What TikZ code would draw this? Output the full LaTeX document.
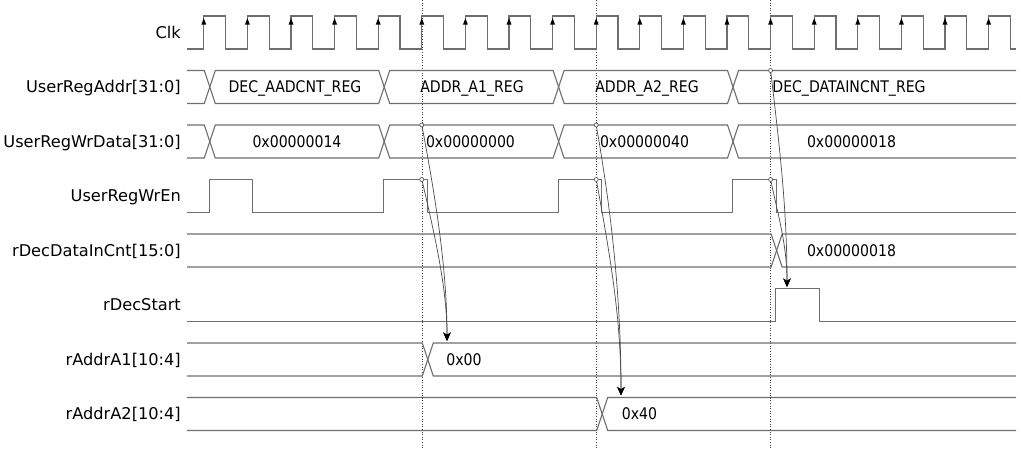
\documentclass[tikz,border=0pt]{standalone}
\usepackage{fontspec}
\newfontfamily\lblfont{DejaVu Sans}
\newfontfamily\valfont{DejaVu Sans}[FakeStretch=0.88]
\usetikzlibrary{arrows.meta}
\definecolor{wavegray}{HTML}{6E6E6E}
\definecolor{arrgray}{HTML}{4A4A4A}
\begin{document}
\begin{tikzpicture}[x=1pt,y=-1pt,
  wave/.style={draw=wavegray,line width=1.1pt,line join=miter},
  guide/.style={draw=black!75,dotted,line width=0.6pt},
  lbl/.style={anchor=east,inner sep=0pt,text height=11.8pt,text depth=0pt,font=\lblfont\fontsize{16.2}{19}\selectfont},
  val/.style={inner sep=0pt,text height=11.6pt,text depth=0pt,font=\valfont\fontsize{16}{19}\selectfont},
  dep/.style={draw=arrgray,line width=0.7pt,-{Stealth[length=8.5pt,width=7.5pt,inset=2.2pt,color=black]}},
  srcdot/.style={draw=arrgray,line width=0.6pt,fill=white},
  clkarrow/.style={fill=black}]
\useasboundingbox (0,0) rectangle (1021,450);

% guide lines
\draw[guide] (421.8,0) -- (421.8,450);
\draw[guide] (596.2,0) -- (596.2,450);
\draw[guide] (770.6,0) -- (770.6,450);

% labels
\node[lbl] (lclk)  at (181,32.5)  {Clk};
\node[lbl] (laddr) at (181,87)    {UserRegAddr[31:0]};
\node[lbl] (ldata) at (181,141.5) {UserRegWrData[31:0]};
\node[lbl] (len)   at (181,196)   {UserRegWrEn};
\node[lbl] (lcnt)  at (181,250.5) {rDecDataInCnt[15:0]};
\node[lbl] (lst)   at (181,305)   {rDecStart};
\node[lbl] (la1)   at (181,359.5) {rAddrA1[10:4]};
\node[lbl] (la2)   at (181,414)   {rAddrA2[10:4]};

% clock
\draw[wave] (187,49) \foreach \k in {0,...,18} { -- ({203.8+43.6*\k},49) -- ({203.8+43.6*\k},16) -- ({225.6+43.6*\k},16) -- ({225.6+43.6*\k},49) } -- (1016,49);
\foreach \k in {0,...,18} \fill[clkarrow] ({203.8+43.6*\k},18.2) -- ++(-2.5,6.5) -- ++(5,0) -- cycle;

% UserRegAddr
\draw[wave] (187,70.5) -- (204.3,70.5) -- (215.3,103.5) -- (378.7,103.5) -- (389.7,70.5) -- (553.1,70.5) -- (564.1,103.5) -- (727.5,103.5) -- (738.5,70.5) -- (1016,70.5);
\draw[wave] (187,103.5) -- (204.3,103.5) -- (215.3,70.5) -- (378.7,70.5) -- (389.7,103.5) -- (553.1,103.5) -- (564.1,70.5) -- (727.5,70.5) -- (738.5,103.5) -- (1016,103.5);
% UserRegWrData
\draw[wave] (187,125) -- (204.3,125) -- (215.3,158) -- (378.7,158) -- (389.7,125) -- (553.1,125) -- (564.1,158) -- (727.5,158) -- (738.5,125) -- (1016,125);
\draw[wave] (187,158) -- (204.3,158) -- (215.3,125) -- (378.7,125) -- (389.7,158) -- (553.1,158) -- (564.1,125) -- (727.5,125) -- (738.5,158) -- (1016,158);
% UserRegWrEn
\draw[wave] (187,212.5) -- (209.3,212.5) -- (209.3,179.5) -- (252.9,179.5) -- (252.9,212.5) -- (383.7,212.5) -- (383.7,179.5) -- (427.3,179.5) -- (427.3,212.5) -- (558.1,212.5) -- (558.1,179.5) -- (601.7,179.5) -- (601.7,212.5) -- (732.5,212.5) -- (732.5,179.5) -- (776.1,179.5) -- (776.1,212.5) -- (1016,212.5);
% rDecDataInCnt
\draw[wave] (187,234) -- (771.1,234) -- (782.1,267) -- (1016,267);
\draw[wave] (187,267) -- (771.1,267) -- (782.1,234) -- (1016,234);
% rDecStart
\draw[wave] (187,321.5) -- (775.6,321.5) -- (775.6,288.5) -- (819.2,288.5) -- (819.2,321.5) -- (1016,321.5);
% rAddrA1
\draw[wave] (187,343) -- (422.3,343) -- (433.3,376) -- (1016,376);
\draw[wave] (187,376) -- (422.3,376) -- (433.3,343) -- (1016,343);
% rAddrA2
\draw[wave] (187,397.5) -- (596.7,397.5) -- (607.7,430.5) -- (1016,430.5);
\draw[wave] (187,430.5) -- (596.7,430.5) -- (607.7,397.5) -- (1016,397.5);

% values
\node[val] (va1) at (295,87)  {DEC\_AADCNT\_REG};
\node[val] (va2) at (472,87)  {ADDR\_A1\_REG};
\node[val] (va3) at (647,87)  {ADDR\_A2\_REG};
\node[val] (va4) at (849,87)  {DEC\_DATAINCNT\_REG};
\node[val] (vd1) at (297,141.5)   {0x00000014};
\node[val] (vd2) at (470.5,141.5) {0x00000000};
\node[val] (vd3) at (644.5,141.5) {0x00000040};
\node[val] (vd4) at (851.5,141.5) {0x00000018};
\node[val] (vc1) at (851.5,250.5) {0x00000018};
\node[val] (vr1) at (464,359.5)   {0x00};
\node[val] (vr2) at (639.5,414)   {0x40};

% dependency arrows
\coordinate (s1a) at (421.8,125);
\coordinate (s1b) at (421.8,179.5);
\coordinate (t1)  at (447,341);
\coordinate (s2a) at (596.2,125);
\coordinate (s2b) at (596.2,179.5);
\coordinate (t2)  at (621,395.5);
\coordinate (s3a) at (770.6,70.5);
\coordinate (s3b) at (770.6,179.5);
\coordinate (t3)  at (787,287);

\draw[dep] (s1a) .. controls (436,200) and (447,270) .. (t1);
\draw[dep] (s1b) .. controls (436,240) and (447,290) .. (t1);
\draw[dep] (s2a) .. controls (612,215) and (621,300) .. (t2);
\draw[dep] (s2b) .. controls (611,260) and (621,320) .. (t2);
\draw[dep] (s3a) .. controls (780,150) and (787,210) .. (t3);
\draw[dep] (s3b) .. controls (778,215) and (787,245) .. (t3);

\foreach \p in {s1a,s1b,s2a,s2b,s3a,s3b} \draw[srcdot] (\p) circle (2pt);
\end{tikzpicture}
\end{document}
